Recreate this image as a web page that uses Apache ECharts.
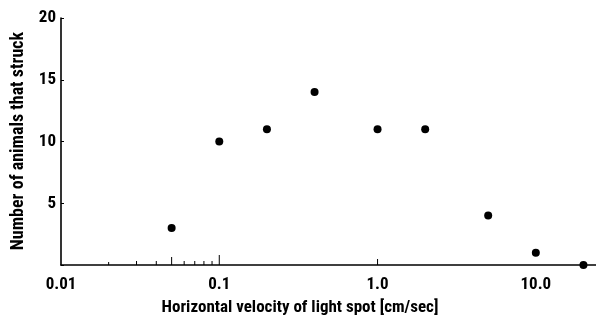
<!DOCTYPE html>
<html>
<head>
<meta charset="utf-8">
<script src="https://cdn.jsdelivr.net/npm/echarts@6/dist/echarts.min.js"></script>
<style>
html,body{margin:0;padding:0;background:#fff;}
#main{width:596px;height:323px;}
</style>
</head>
<body>
<div id="main"></div>
<script>
// Data
const velocity = [0.05, 0.1, 0.2, 0.4, 1.0, 2.0, 5.0, 10.0, 20.0];
const animalsStruck = [3, 10, 11, 14, 11, 11, 4, 1, 0];
const xTickValues = [0.01, 0.1, 1, 10];
const xTickLabels = ['0.01', '0.1', '1.0', '10.0'];
const xMinorTicks = [0.02, 0.03, 0.04, 0.05, 0.06, 0.07, 0.08, 0.09, 0.1, 1.0];
const yTickLabels = ['5', '10', '15', '20'];

const FONT = '"Roboto Condensed", "Open Sans Condensed", sans-serif';

function fmtX(v) {
  for (let i = 0; i < xTickValues.length; i++) {
    if (Math.abs(Math.log10(v) - Math.log10(xTickValues[i])) < 1e-6) return xTickLabels[i];
  }
  return '';
}

const chart = echarts.init(document.getElementById('main'), null, {renderer: 'canvas'});
chart.setOption({
  animation: false,
  backgroundColor: '#fff',
  grid: {left: 61, right: 0, top: 18, bottom: 58, containLabel: false},
  xAxis: {
    type: 'log', logBase: 10, min: 0.01, max: 24,
    axisLine: {lineStyle: {color: '#000', width: 1.6}},
    axisTick: {show: false},
    splitLine: {show: false},
    minorTick: {show: false},
    axisLabel: {
      showMaxLabel: false,
      color: '#000', fontFamily: FONT, fontSize: 17, fontWeight: 'bold', margin: 11,
      formatter: fmtX
    }
  },
  yAxis: {
    type: 'value', min: 0, max: 20, interval: 5,
    axisLine: {show: true, lineStyle: {color: '#000', width: 1.6}},
    axisTick: {show: true, inside: true, length: 3, lineStyle: {color: '#000', width: 1}},
    splitLine: {show: false},
    axisLabel: {
      color: '#000', fontFamily: FONT, fontSize: 17, fontWeight: 'bold', margin: 5,
      formatter: function (v) { const s = String(v); return yTickLabels.indexOf(s) >= 0 ? s : ''; }
    }
  },
  graphic: [
    {
      type: 'text', x: 18, y: 141, rotation: Math.PI / 2,
      style: {text: 'Number of animals that struck', font: 'bold 18px ' + FONT, fill: '#000',
        textAlign: 'center', textVerticalAlign: 'middle'}
    },
    {
      type: 'text', x: 300, y: 308,
      style: {text: 'Horizontal velocity of light spot [cm/sec]', font: 'bold 17px ' + FONT, fill: '#000',
        textAlign: 'center', textVerticalAlign: 'middle'}
    }
  ],
  series: [
    {
      type: 'custom',
      coordinateSystem: 'cartesian2d',
      silent: true,
      data: xMinorTicks.map(v => [v, 0]),
      renderItem: function (params, api) {
        const v = api.value(0);
        const p = api.coord([v, 0]);
        let h = 4;
        if (Math.abs(v - 0.05) < 1e-9) h = 8;
        else if (Math.abs(v - 0.1) < 1e-9) h = 10;
        else if (Math.abs(v - 1.0) < 1e-9) h = 6;
        else if (v < 0.025) h = 3;
        return {
          type: 'line',
          shape: {x1: p[0], y1: p[1], x2: p[0], y2: p[1] - h},
          style: {stroke: '#000', lineWidth: 1}
        };
      }
    },
    {
      type: 'scatter',
      data: velocity.map((v, i) => [v, animalsStruck[i]]),
      symbol: 'circle',
      symbolSize: 8,
      itemStyle: {color: '#000', opacity: 1},
      clip: false
    }
  ]
});
</script>
</body>
</html>
